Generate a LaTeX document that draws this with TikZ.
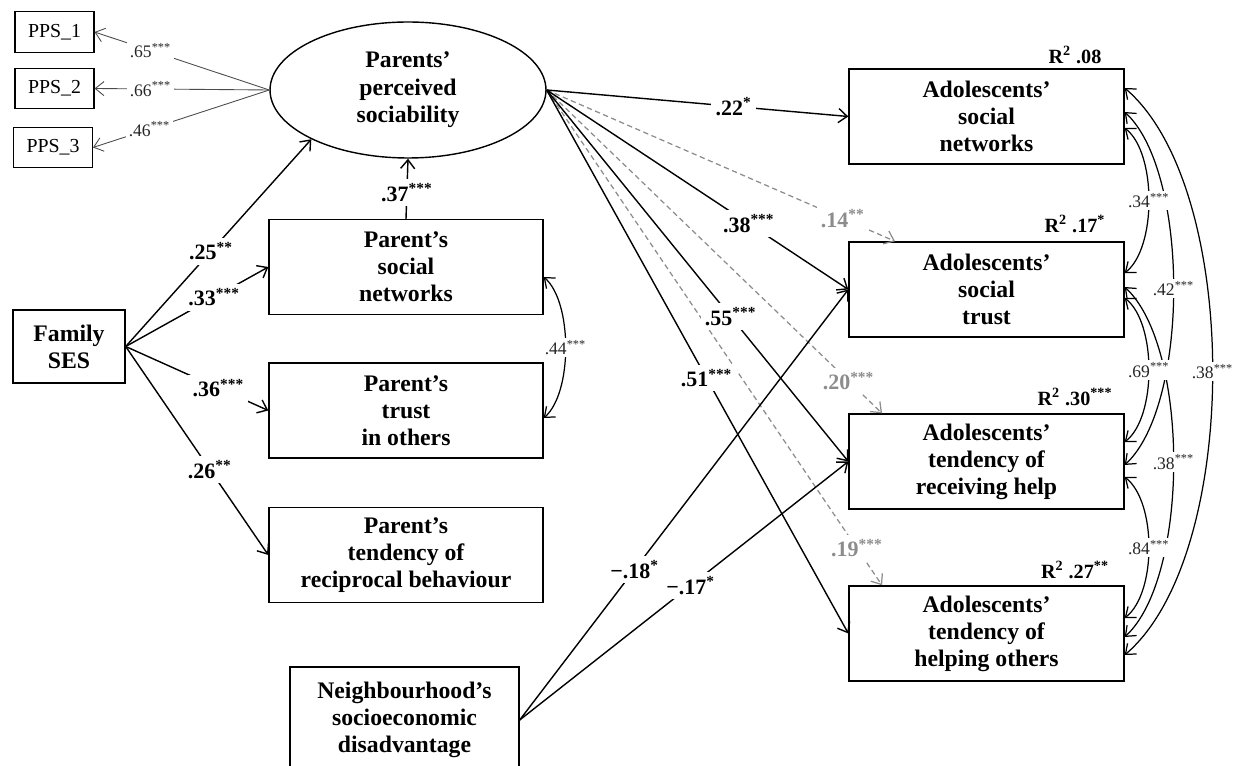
\documentclass[tikz,border=0pt]{standalone}
\usepackage{fontspec}
\setmainfont{Liberation Serif}
\usetikzlibrary{shapes.geometric,arrows.meta}
\begin{document}
\begin{tikzpicture}[x=0.02cm,y=-0.02cm,
  >={Straight Barb[length=5pt,width=8pt]},
  box/.style={draw,line width=0.8pt,align=center,font=\fontsize{13.5}{15.4}\selectfont\bfseries,minimum width=5.5cm,minimum height=1.9cm,inner sep=0pt},
  ppsbox/.style={draw,line width=0.6pt,font=\fontsize{11.3}{13}\selectfont,minimum width=1.58cm,minimum height=0.81cm,inner sep=0pt},
  pth/.style={->,line width=0.8pt},
  ppsln/.style={->,line width=0.5pt,black!70},
  gpth/.style={->,line width=0.7pt,black!45,dash pattern=on 3pt off 2pt},
  lbl/.style={fill=white,inner sep=2.5pt,font=\fontsize{12.5}{14}\selectfont\bfseries},
  glbl/.style={lbl,text=black!45},
  slbl/.style={fill=white,text=black!85,inner sep=1.5pt,font=\fontsize{10}{12}\selectfont},
  rlbl/.style={font=\fontsize{11.5}{13}\selectfont\bfseries},
  cov/.style={<->,line width=0.7pt}
]
\clip (0,0) rectangle (1243,766);
\fill[white] (0,0) rectangle (1243,766);

% nodes
\node[ppsbox] (p1) at (54.5,32) {PPS\_1};
\node[ppsbox] (p2) at (54.5,88.5) {PPS\_2};
\node[ppsbox] (p3) at (53,147.5) {PPS\_3};
\node[ellipse,draw,line width=0.8pt,minimum width=5.52cm,minimum height=2.72cm,inner sep=0pt,align=center,font=\fontsize{13.5}{15.6}\selectfont\bfseries] (pps) at (408,90) {Parents’\\perceived\\sociability};
\node[box,minimum width=5.48cm] (psn) at (406,267) {Parent’s\\social\\networks};
\node[box,minimum width=5.48cm] (pti) at (406,410.5) {Parent’s\\trust\\in others};
\node[box,minimum width=5.48cm] (prb) at (406,555) {Parent’s\\tendency of\\reciprocal behaviour};
\node[box,minimum width=2.24cm,minimum height=1.46cm] (ses) at (69,346.5) {Family\\SES};
\node[box,minimum width=4.58cm,minimum height=2.12cm] (nd) at (404.5,720) {Neighbourhood’s\\socioeconomic\\disadvantage};
\node[box] (asn) at (986.5,116.5) {Adolescents’\\social\\networks};
\node[box] (ast) at (986.5,289.5) {Adolescents’\\social\\trust};
\node[box] (arh) at (986.5,461.5) {Adolescents’\\tendency of\\receiving help};
\node[box] (aho) at (986.5,633.5) {Adolescents’\\tendency of\\helping others};

\node[rlbl] (r1) at (1075,55) {R\textsuperscript{2} .08};
\node[rlbl] (r2) at (1075,224) {R\textsuperscript{2} .17\textsuperscript{*}};
\node[rlbl] (r3) at (1075,397) {R\textsuperscript{2} .30\textsuperscript{***}};
\node[rlbl] (r4) at (1075,570) {R\textsuperscript{2} .27\textsuperscript{**}};

% measurement
\draw[ppsln] (pps.west) -- node[slbl,pos=0.68]{.65\textsuperscript{***}} (p1.east);
\draw[ppsln] (pps.west) -- node[slbl,pos=0.68]{.66\textsuperscript{***}} (p2.east);
\draw[ppsln] (pps.west) -- node[slbl,pos=0.68]{.46\textsuperscript{***}} (p3.east);

% family SES
\draw[pth] (ses.east) -- node[lbl,pos=0.46]{.25\textsuperscript{**}} (pps.207);
\draw[pth] (ses.east) -- node[lbl,pos=0.62]{.33\textsuperscript{***}} (psn.west);
\draw[pth] (ses.east) -- node[lbl,pos=0.65]{.36\textsuperscript{***}} (pti.west);
\draw[pth] (ses.east) -- node[lbl,pos=0.59]{.26\textsuperscript{**}} (prb.west);

\draw[pth] (psn.north) -- node[lbl,pos=0.44]{.37\textsuperscript{***}} (pps.south);

% parents' perceived sociability to adolescents
\draw[gpth] (pps.east) -- node[glbl,pos=0.85]{.14\textsuperscript{**}} ([xshift=-1.83cm]ast.north);
\draw[gpth] (pps.east) -- node[glbl,pos=0.9]{.20\textsuperscript{***}} ([xshift=-2.09cm]arh.north);
\draw[gpth] (pps.east) -- node[glbl,pos=0.925]{.19\textsuperscript{***}} ([xshift=-2.09cm]aho.north);
\draw[pth] (pps.east) -- node[lbl,pos=0.62]{.22\textsuperscript{*}} (asn.west);
\draw[pth] (pps.east) -- node[lbl,pos=0.67]{.38\textsuperscript{***}} (ast.west);
\draw[pth] (pps.east) -- node[lbl,pos=0.61]{.55\textsuperscript{***}} (arh.west);
\draw[pth] (pps.east) -- node[lbl,pos=0.53]{.51\textsuperscript{***}} (aho.west);

% neighbourhood
\draw[pth] (nd.east) -- node[lbl,pos=0.35]{−.18\textsuperscript{*}} (ast.west);
\draw[pth] (nd.east) -- node[lbl,pos=0.52]{−.17\textsuperscript{*}} (arh.west);

% covariances
\draw[cov] ([yshift=-0.2cm]psn.east) .. controls +(29,25) and +(29,-25) .. node[slbl,pos=0.5]{.44\textsuperscript{***}} ([yshift=-0.15cm]pti.east);
\draw[cov] ([yshift=0.57cm]asn.east) .. controls +(117,100) and +(117,-100) .. node[slbl,pos=0.5]{.38\textsuperscript{***}} ([yshift=-0.43cm]aho.east);
\draw[cov] ([yshift=0.09cm]asn.east) .. controls +(65,60) and +(65,-60) .. node[slbl,pos=0.5]{.42\textsuperscript{***}} ([yshift=-0.07cm]arh.east);
\draw[cov] ([yshift=0.05cm]ast.east) .. controls +(65,60) and +(65,-60) .. node[slbl,pos=0.5]{.38\textsuperscript{***}} ([yshift=-0.07cm]aho.east);
\draw[cov] ([yshift=-0.23cm]asn.east) .. controls +(32,25) and +(32,-25) .. node[slbl,pos=0.5]{.34\textsuperscript{***}} ([yshift=0.33cm]ast.east);
\draw[cov] ([yshift=-0.17cm]ast.east) .. controls +(32,25) and +(32,-25) .. node[slbl,pos=0.5]{.69\textsuperscript{***}} ([yshift=0.39cm]arh.east);
\draw[cov] ([yshift=-0.31cm]arh.east) .. controls +(32,25) and +(32,-25) .. node[slbl,pos=0.5]{.84\textsuperscript{***}} ([yshift=0.31cm]aho.east);
\end{tikzpicture}
\end{document}
